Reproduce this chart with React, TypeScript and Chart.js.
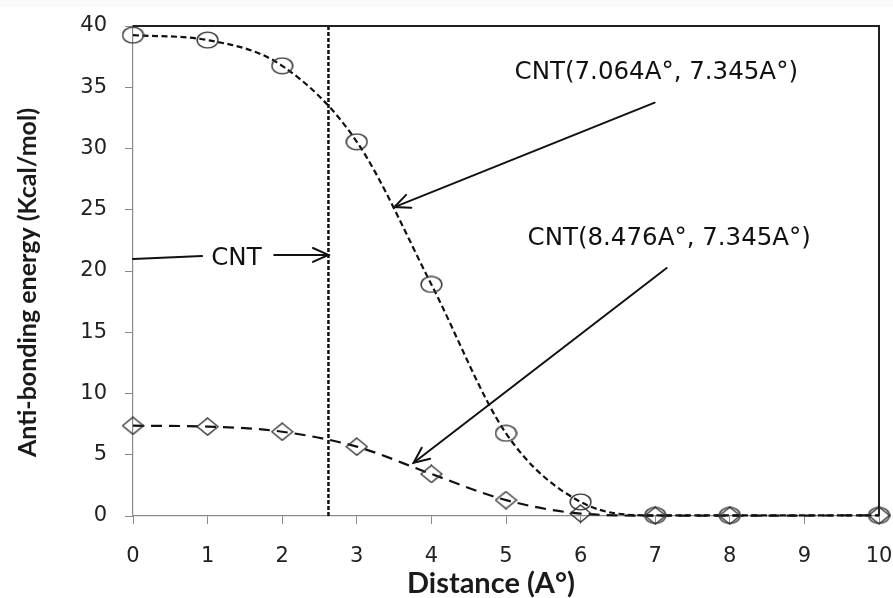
import React, { useEffect, useRef } from "react";
import { Chart, registerables } from "chart.js";

Chart.register(...registerables);

// ---- data ----
const distances = [0, 1, 2, 3, 4, 5, 6, 7, 8, 10];
const energyCnt7064 = [39.25, 38.85, 36.75, 30.55, 18.9, 6.75, 1.15, 0.05, 0.05, 0.05];
const energyCnt8476 = [7.37, 7.3, 6.88, 5.66, 3.43, 1.3, 0.2, 0.03, 0.03, 0.05];
const seriesNames = ["CNT(7.064A°, 7.345A°)", "CNT(8.476A°, 7.345A°)"];
const boundaryName = "CNT";
const boundaryDistance = 2.62;
const xRange = [0, 10];
const xStep = 1;
const yRange = [0, 40];
const yStep = 5;
const xTitle = "Distance (A°)";
const yTitle = "Anti-bonding energy (Kcal/mol)";

// annotation anchors, in data units
const seriesLabelAnchors = [
  [7.014, 35.65],
  [7.188, 22.12],
];
const seriesArrows = [
  [6.993, 33.74, 3.503, 25.22],
  [7.154, 20.24, 3.762, 4.35],
];
const boundaryLabelAnchor = [1.386, 20.49];
const boundaryLeader = [0, 20.98, 0.926, 21.22];
const boundaryArrow = [1.893, 21.31, 2.62, 21.31];

const INK = "#111111";
const AXIS_GRAY = "#8a8a8a";
const FRAME = "#202020";
const TICK_FONT = { family: "'DejaVu Sans'", size: 21 };

function makeMarker(kind: "ellipse" | "diamond"): HTMLCanvasElement {
  const c = document.createElement("canvas");
  const w = 23;
  const h = kind === "ellipse" ? 18 : 19;
  c.width = w;
  c.height = h;
  const g = c.getContext("2d")!;
  g.strokeStyle = "#333333";
  g.lineWidth = 1.4;
  g.beginPath();
  if (kind === "ellipse") {
    g.ellipse(w / 2, h / 2, 10.4, 7.9, 0, 0, Math.PI * 2);
  } else {
    g.moveTo(w / 2, 1);
    g.lineTo(w - 1, h / 2);
    g.lineTo(w / 2, h - 1);
    g.lineTo(1, h / 2);
    g.closePath();
  }
  g.stroke();
  return c;
}

function arrow(ctx: CanvasRenderingContext2D, x1: number, y1: number, x2: number, y2: number) {
  const head = 17;
  const spread = 0.42;
  ctx.beginPath();
  ctx.moveTo(x1, y1);
  ctx.lineTo(x2, y2);
  ctx.stroke();
  const ang = Math.atan2(y2 - y1, x2 - x1);
  ctx.beginPath();
  ctx.moveTo(x2 - head * Math.cos(ang - spread), y2 - head * Math.sin(ang - spread));
  ctx.lineTo(x2, y2);
  ctx.lineTo(x2 - head * Math.cos(ang + spread), y2 - head * Math.sin(ang + spread));
  ctx.stroke();
}

function fitFontSize(ctx: CanvasRenderingContext2D, text: string, family: string, target: number) {
  ctx.font = `bold 20px ${family}`;
  const w = ctx.measureText(text).width;
  return (20 * target) / w;
}

const annotationPlugin = {
  id: "annotations",
  afterDraw(chart: any) {
    const ctx = chart.ctx;
    const a = chart.chartArea;
    const xs = chart.scales.x;
    const ys = chart.scales.y;
    const px = (v: number) => xs.getPixelForValue(v);
    const py = (v: number) => ys.getPixelForValue(v);
    ctx.save();
    ctx.setLineDash([]);

    // plot frame (top and right edges) as solid filled bars
    ctx.fillStyle = FRAME;
    ctx.fillRect(Math.round(a.left), Math.round(a.top) - 1, Math.round(a.right - a.left), 2);
    ctx.fillRect(Math.round(a.right) - 1, Math.round(a.top) - 1, 2, Math.round(a.bottom - a.top) + 1);

    ctx.strokeStyle = INK;
    ctx.fillStyle = INK;
    ctx.lineWidth = 2;
    ctx.lineCap = "round";

    // series labels + arrows
    ctx.font = "24.5px 'DejaVu Sans'";
    ctx.textAlign = "center";
    ctx.textBaseline = "alphabetic";
    seriesNames.forEach((name, i) => {
      const [lx, ly] = seriesLabelAnchors[i];
      ctx.fillText(name, px(lx), py(ly));
      const [x1, y1, x2, y2] = seriesArrows[i];
      arrow(ctx, px(x1), py(y1), px(x2), py(y2));
    });

    // boundary label
    ctx.fillText(boundaryName, px(boundaryLabelAnchor[0]), py(boundaryLabelAnchor[1]));
    ctx.beginPath();
    ctx.moveTo(px(boundaryLeader[0]), py(boundaryLeader[1]));
    ctx.lineTo(px(boundaryLeader[2]), py(boundaryLeader[3]));
    ctx.stroke();
    arrow(ctx, px(boundaryArrow[0]), py(boundaryArrow[1]), px(boundaryArrow[2]), py(boundaryArrow[3]));

    // axis titles
    const fam = "Lato, 'Open Sans', sans-serif";
    ctx.fillStyle = "#1a1a1a";
    const xs2 = fitFontSize(ctx, xTitle, fam, 168);
    ctx.font = `bold ${xs2}px ${fam}`;
    ctx.textAlign = "center";
    ctx.textBaseline = "alphabetic";
    ctx.fillText(xTitle, 491, 593);

    const ys2 = fitFontSize(ctx, yTitle, fam, 349);
    ctx.font = `bold ${ys2}px ${fam}`;
    ctx.translate(36, 282.5);
    ctx.rotate(-Math.PI / 2);
    ctx.fillText(yTitle, 0, 0);
    ctx.restore();
  },
};

export default function App() {
  const ref = useRef<HTMLCanvasElement>(null);

  useEffect(() => {
    const canvas = ref.current!;
    const ellipse = makeMarker("ellipse");
    const diamond = makeMarker("diamond");

    const chart = new Chart(canvas, {
      type: "line",
      data: {
        datasets: [
          {
            label: seriesNames[0],
            data: distances.map((d, i) => ({ x: d, y: energyCnt7064[i] })),
            borderColor: INK,
            borderWidth: 2.2,
            borderDash: [6, 3.5],
            cubicInterpolationMode: "monotone",
            pointStyle: ellipse,
            pointRadius: 10,
            fill: false,
            clip: false,
          },
          {
            label: seriesNames[1],
            data: distances.map((d, i) => ({ x: d, y: energyCnt8476[i] })),
            borderColor: INK,
            borderWidth: 2.2,
            borderDash: [11, 7],
            cubicInterpolationMode: "monotone",
            pointStyle: diamond,
            pointRadius: 10,
            fill: false,
            clip: false,
          },
          {
            label: boundaryName,
            data: [
              { x: boundaryDistance, y: yRange[0] },
              { x: boundaryDistance, y: yRange[1] },
            ],
            borderColor: INK,
            borderWidth: 2.5,
            borderDash: [4, 2],
            pointRadius: 0,
            fill: false,
          },
        ],
      } as any,
      options: {
        responsive: false,
        animation: false,
        devicePixelRatio: 1,
        layout: { padding: { top: 26, right: 14, left: 0, bottom: 0 } },
        plugins: {
          legend: { display: false },
          tooltip: { enabled: false },
        },
        scales: {
          x: {
            type: "linear",
            min: xRange[0],
            max: xRange[1],
            afterFit: (s: any) => {
              s.height = 82;
              s.paddingLeft = 0;
              s.paddingRight = 0;
            },
            ticks: { stepSize: xStep, font: TICK_FONT, color: "#222", padding: 20, maxRotation: 0 },
            grid: { drawOnChartArea: false, tickLength: 8, color: AXIS_GRAY, lineWidth: 1 },
            border: { color: AXIS_GRAY, width: 1.2 },
          },
          y: {
            type: "linear",
            min: yRange[0],
            max: yRange[1],
            afterFit: (s: any) => {
              s.width = 133;
              s.paddingTop = 0;
              s.paddingBottom = 0;
            },
            ticks: { stepSize: yStep, font: TICK_FONT, color: "#222", padding: 18 },
            grid: { drawOnChartArea: false, tickLength: 8, color: AXIS_GRAY, lineWidth: 1 },
            border: { color: AXIS_GRAY, width: 1.2 },
          },
        },
      } as any,
      plugins: [annotationPlugin],
    });

    return () => chart.destroy();
  }, []);

  return (
    <div
      style={{
        position: "fixed",
        left: 0,
        top: 0,
        width: 893,
        height: 598,
        background: "linear-gradient(#fafafa 0px, #fafafa 7px, #ffffff 7px)",
      }}
    >
      <canvas ref={ref} width={893} height={598} style={{ display: "block" }} />
    </div>
  );
}
